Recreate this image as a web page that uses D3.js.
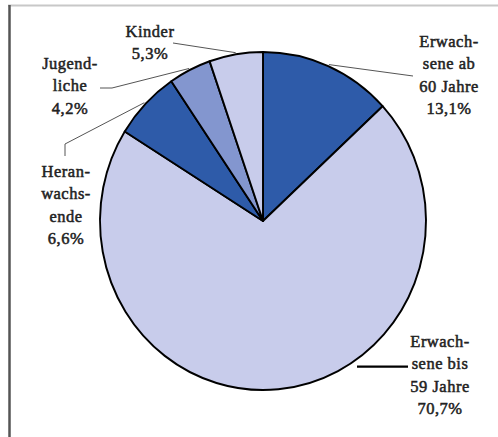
<!DOCTYPE html>
<html>
<head>
<meta charset="utf-8">
<script src="https://cdn.jsdelivr.net/npm/d3@7/dist/d3.min.js"></script>
<style>
  html, body { margin: 0; padding: 0; background: #fff; }
  svg { display: block; }
</style>
</head>
<body>
<div id="chart"></div>
<script>
// Share of each age group (percent), clockwise from 12 o'clock
const groups = ["Erwachsene ab 60 Jahre", "Erwachsene bis 59 Jahre", "Heranwachsende", "Jugendliche", "Kinder"];
const shares = [13.1, 70.7, 6.6, 4.2, 5.3];
// Hyphenated label lines as printed next to each slice
const labelLines = [
  ["Erwach-", "sene ab", "60 Jahre"],
  ["Erwach-", "sene bis", "59 Jahre"],
  ["Heran-", "wachs-", "ende"],
  ["Jugend-", "liche"],
  ["Kinder"]
];
const shareLabels = ["13,1%", "70,7%", "6,6%", "4,2%", "5,3%"];

const W = 498, H = 437;
const cx = 263, cy = 221, rx = 163, ry = 169;
const FONT = "'Liberation Serif', 'Times New Roman', Times, serif";

const svg = d3.select("#chart").append("svg").attr("width", W).attr("height", H);

// frame: light rule on top, dark rule on the left
svg.append("line").attr("x1", 8).attr("x2", W).attr("y1", 5.5).attr("y2", 5.5)
  .attr("stroke", "#c8c8c8").attr("stroke-width", 2);
svg.append("line").attr("x1", 9.5).attr("x2", 9.5).attr("y1", 5).attr("y2", H)
  .attr("stroke", "#555").attr("stroke-width", 2.5);

const color = d3.scaleOrdinal()
  .domain(groups)
  .range(["#2e5ba9", "#c8cceb", "#2e5ba9", "#8396cf", "#c8cceb"]);

const pie = d3.pie().sort(null).value(d => d.v);
const data = groups.map((g, i) => ({ g, v: shares[i], i }));
const arcs = pie(data);

const arc = d3.arc().innerRadius(0).outerRadius(ry);

// pie drawn as circle, stretched horizontally into the slight ellipse
const pieG = svg.append("g")
  .attr("transform", `translate(${cx},${cy}) scale(${rx / ry},1)`);
pieG.selectAll("path").data(arcs).join("path")
  .attr("d", arc)
  .attr("fill", d => color(d.data.g))
  .attr("stroke", "#000")
  .attr("stroke-width", 2)
  .attr("stroke-linejoin", "round");

// point on the rim (slightly outside) at a slice's mid angle
function rimPoint(d, k) {
  const a = (d.startAngle + d.endAngle) / 2;
  return [cx + rx * k * Math.sin(a), cy - ry * k * Math.cos(a)];
}

// label blocks: centre x, first baseline, leader polyline (without rim point)
const lineH = 22.3;
const layout = [
  { x: 449, y: 47, leader: [[413, 76]], lead: "thin" },
  { x: 440, y: 347, leader: null, lead: "thick" },
  { x: 66, y: 177, leader: [[65, 144], [65, 156]], lead: "thin" },
  { x: 70, y: 69, leader: [[112, 88], [100, 88]], lead: "thin" },
  { x: 150, y: 37, leader: [[173, 43]], lead: "thin" }
];

arcs.forEach((d, i) => {
  const L = layout[i];
  const lines = labelLines[i].concat([shareLabels[i]]);
  const t = svg.append("text")
    .attr("text-anchor", "middle")
    .attr("font-family", FONT)
    .attr("font-size", 16.5)
    .attr("letter-spacing", 0.5)
    .attr("fill", "#222")
    .attr("stroke", "#222")
    .attr("stroke-width", 0.5);
  lines.forEach((s, j) => {
    t.append("tspan").attr("x", L.x).attr("y", L.y + j * lineH).text(s);
  });

  if (L.lead === "thin") {
    const pts = [rimPoint(d, 1.01)].concat(L.leader);
    svg.append("path")
      .attr("d", d3.line()(pts))
      .attr("fill", "none")
      .attr("stroke", "#555")
      .attr("stroke-width", 1);
  } else {
    // short heavy rule to the right of the large slice
    const yy = L.y + lineH * 0.88;
    svg.append("line")
      .attr("x1", 357).attr("x2", 408).attr("y1", yy).attr("y2", yy)
      .attr("stroke", "#000").attr("stroke-width", 2.2);
  }
});
</script>
</body>
</html>
